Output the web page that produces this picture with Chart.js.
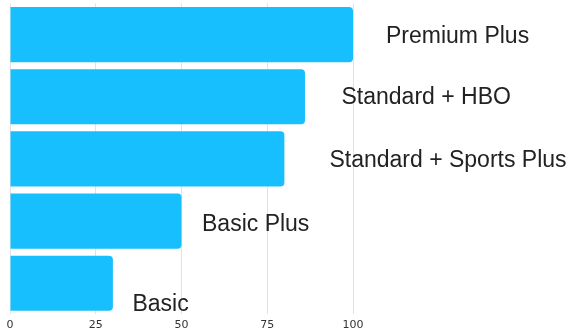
<!DOCTYPE html>
<html>
<head>
<meta charset="utf-8">
<script src="https://cdn.jsdelivr.net/npm/chart.js@4"></script>
<style>
  html, body { margin: 0; padding: 0; background: #ffffff; }
  #wrap { width: 573px; height: 333px; position: relative; }
</style>
</head>
<body>
<div id="wrap"><canvas id="c"></canvas></div>
<script>
const categories = ["Premium Plus", "Standard + HBO", "Standard + Sports Plus", "Basic Plus", "Basic"];
const values = [100, 86, 80, 50, 30];
const xTicks = [0, 25, 50, 75, 100];

const labelPlugin = {
  id: 'barLabels',
  afterDatasetsDraw(chart, args, opts) {
    const ctx = chart.ctx;
    const meta = chart.getDatasetMeta(0);
    ctx.save();
    ctx.font = opts.font;
    ctx.fillStyle = opts.color;
    ctx.textAlign = 'left';
    ctx.textBaseline = 'alphabetic';
    meta.data.forEach((bar, i) => {
      const off = opts.offsets[i] || {dx: 30, dy: 8};
      ctx.fillText(chart.data.labels[i], bar.x + off.dx, bar.y + off.dy);
    });
    ctx.restore();
  }
};

new Chart(document.getElementById('c'), {
  type: 'bar',
  data: {
    labels: categories,
    datasets: [{
      data: values,
      backgroundColor: '#18BFFF',
      borderWidth: 0,
      borderRadius: 4,
      borderSkipped: 'start',
      categoryPercentage: 0.887,
      barPercentage: 1.0
    }]
  },
  options: {
    indexAxis: 'y',
    responsive: true,
    maintainAspectRatio: false,
    animation: false,
    layout: { padding: { left: 10, right: 220, top: 3.5, bottom: -2.5 } },
    plugins: {
      legend: { display: false },
      tooltip: { enabled: false },
      barLabels: {
        font: '23px "Liberation Sans", Arial, sans-serif',
        color: '#222222',
        offsets: [
          {dx: 33, dy: 8.5},
          {dx: 36.5, dy: 7},
          {dx: 45, dy: 8},
          {dx: 20.5, dy: 10},
          {dx: 19.5, dy: 27.5}
        ]
      }
    },
    scales: {
      x: {
        type: 'linear',
        min: 0,
        max: 100,
        afterBuildTicks(scale) { scale.ticks = xTicks.map(v => ({ value: v })); },
        grid: { color: '#e2e2e2', lineWidth: 1, drawTicks: false },
        border: { display: false },
        ticks: {
          padding: 4,
          color: '#333333',
          font: { family: '"DejaVu Sans", sans-serif', size: 11 }
        }
      },
      y: {
        display: false,
        offset: true
      }
    }
  },
  plugins: [labelPlugin]
});
</script>
</body>
</html>
